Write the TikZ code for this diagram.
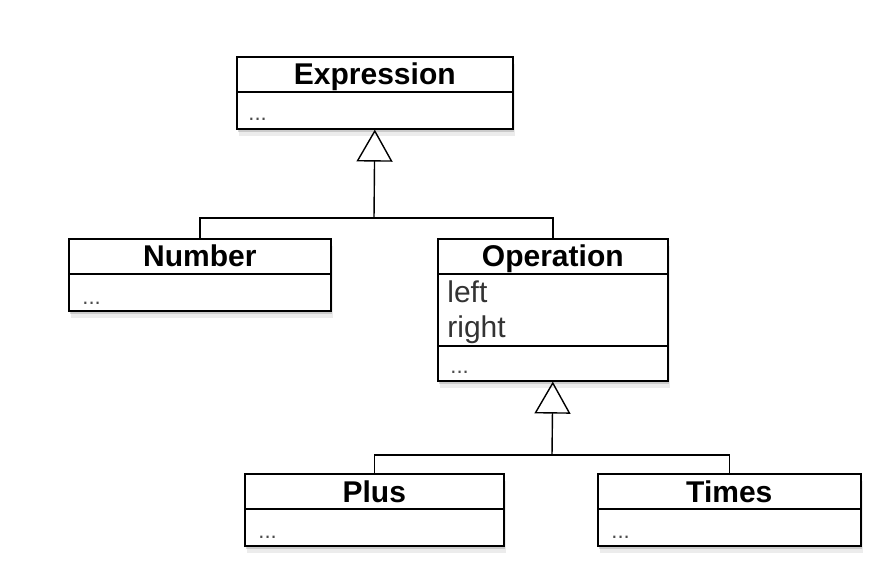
\documentclass[tikz,border=0pt]{standalone}
\usepackage{fontspec}
\setmainfont{Liberation Sans}
\usetikzlibrary{arrows.meta,shadows,positioning,calc}

\begin{document}
\begin{tikzpicture}[x=0.5pt,y=-0.5pt,
  classbox/.style={draw, line width=0.8pt, fill=white, anchor=north west, inner sep=0pt,
    drop shadow={shadow xshift=0.5pt, shadow yshift=-1.5pt, opacity=0.3},
    drop shadow={shadow xshift=1pt, shadow yshift=-3.5pt, opacity=0.15}},
  classname/.style={font=\bfseries\fontsize{15}{18}\selectfont, anchor=base, inner sep=0pt},
  member/.style={font=\fontsize{15}{18}\selectfont, anchor=base west, inner sep=0pt, text=black!80},
  dots/.style={font=\fontsize{11}{13}\selectfont, anchor=base west, inner sep=0pt, text=black!70},
  divider/.style={line width=0.8pt},
  link/.style={line width=0.7pt},
  inherit/.style={link, -{Triangle[open, length=16pt, width=18pt]}}]
\useasboundingbox (0,0) rectangle (892,566);

% classes
\node[classbox, minimum width=138pt, minimum height=36pt] (expr) at (236,56) {};
\node[classbox, minimum width=131pt, minimum height=36pt] (num) at (68,238) {};
\node[classbox, minimum width=115pt, minimum height=71pt] (op) at (437,238) {};
\node[classbox, minimum width=129.5pt, minimum height=36pt] (plus) at (244,473) {};
\node[classbox, minimum width=131.5pt, minimum height=36pt] (times) at (597,473) {};

% compartments
\foreach \c in {expr,num,op,plus,times}
  \draw[divider] ([yshift=-18pt]\c.north west) -- ([yshift=-18pt]\c.north east);
\draw[divider] ([yshift=-54pt]op.north west) -- ([yshift=-54pt]op.north east);

% names
\node[classname] (exprname) at ([yshift=-14.5pt]expr.north) {Expression};
\node[classname] (numname) at ([yshift=-14.5pt]num.north) {Number};
\node[classname] (opname) at ([yshift=-14.5pt]op.north) {Operation};
\node[classname] (plusname) at ([yshift=-14.5pt]plus.north) {Plus};
\node[classname] (timesname) at ([yshift=-14.5pt]times.north) {Times};

% members
\node[dots] (exprdots) at ([xshift=6pt,yshift=-32.5pt]expr.north west) {...};
\node[dots] (numdots) at ([xshift=7pt,yshift=-33pt]num.north west) {...};
\node[member] (opleft) at ([xshift=5pt,yshift=-32pt]op.north west) {left};
\node[member] (opright) at ([xshift=5pt,yshift=-49.5pt]op.north west) {right};
\node[dots] (opdots) at ([xshift=6.5pt,yshift=-67.5pt]op.north west) {...};
\node[dots] (plusdots) at ([xshift=7pt,yshift=-32.5pt]plus.north west) {...};
\node[dots] (timesdots) at ([xshift=7pt,yshift=-32.5pt]times.north west) {...};

% inheritance
\coordinate (topjoin) at (374,218);
\draw[link] (num.north) |- (topjoin) -| (op.north);
\draw[inherit] (topjoin) -- (expr.south);
\coordinate (botjoin) at (552,455);
\draw[link] (plus.north) |- (botjoin) -| (times.north);
\draw[inherit] (botjoin) -- (op.south);
\end{tikzpicture}
\end{document}
